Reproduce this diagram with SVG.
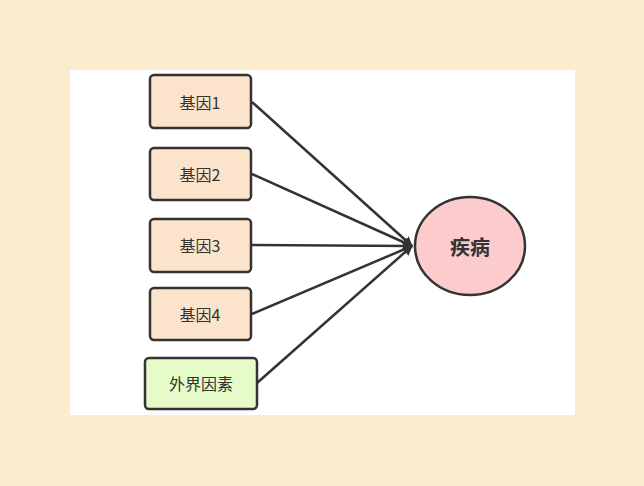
<svg xmlns="http://www.w3.org/2000/svg" width="644" height="486" viewBox="0 0 644 486">
<style>
.g{fill:#fce4cc;stroke:#333;stroke-width:2.5}
.e{fill:#e6fcc8;stroke:#333;stroke-width:2.5}
.t{font-family:"Noto Sans CJK SC",sans-serif;font-size:16px;fill:#333;text-anchor:middle;dominant-baseline:central}
.c line{stroke:#333;stroke-width:2.5}
</style>
<defs><marker id="a" markerWidth="10" markerHeight="10" refX="9" refY="5" orient="auto" markerUnits="userSpaceOnUse" viewBox="0 0 10 10"><path d="M0,0 L10,5 L0,10 z" fill="#333"/></marker></defs>
<rect width="644" height="486" fill="#fbecce"/>
<rect x="70" y="70" width="505" height="345" fill="#fff"/>
<g class="c">
<line x1="252" y1="102" x2="412" y2="246" marker-end="url(#a)"/>
<line x1="252" y1="174" x2="412" y2="246" marker-end="url(#a)"/>
<line x1="252" y1="245" x2="412" y2="246" marker-end="url(#a)"/>
<line x1="252" y1="314" x2="412" y2="246" marker-end="url(#a)"/>
<line x1="257" y1="383" x2="412" y2="246" marker-end="url(#a)"/>
</g>
<g id="n1"><rect class="g" x="150" y="75" width="101" height="53" rx="4"/><text class="t" x="200" y="102">基因1</text></g>
<g id="n2"><rect class="g" x="150" y="148" width="101" height="52" rx="4"/><text class="t" x="200" y="174">基因2</text></g>
<g id="n3"><rect class="g" x="150" y="219" width="101" height="53" rx="4"/><text class="t" x="200" y="245">基因3</text></g>
<g id="n4"><rect class="g" x="150" y="288" width="101" height="52" rx="4"/><text class="t" x="200" y="314">基因4</text></g>
<g id="n5"><rect class="e" x="145" y="358" width="112" height="51" rx="4"/><text class="t" x="201" y="383">外界因素</text></g>
<g id="n6"><ellipse cx="470" cy="246" rx="55" ry="49" fill="#fccccc" stroke="#333" stroke-width="2.5"/><text class="t" x="470" y="246" style="font-size:20px;font-weight:bold">疾病</text></g>
</svg>
